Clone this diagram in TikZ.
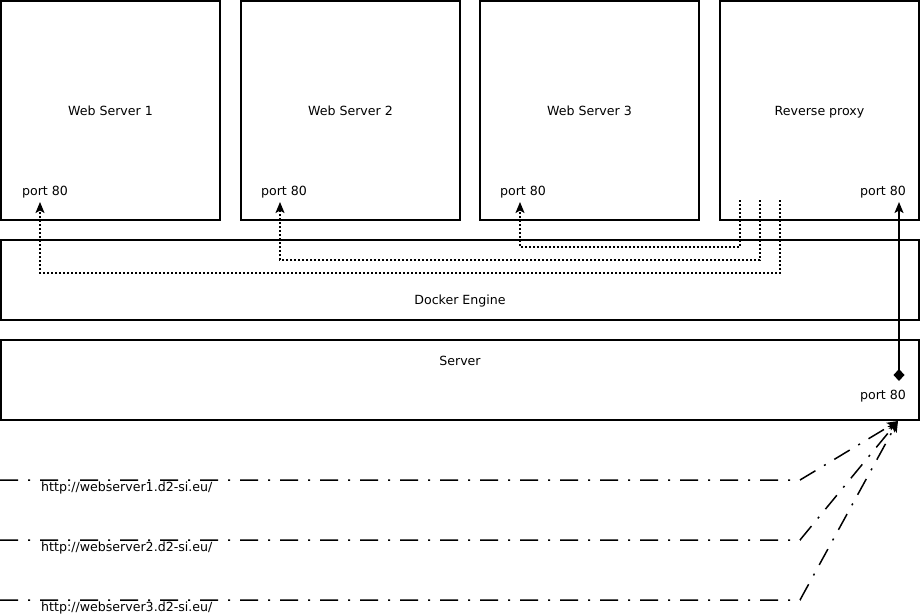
\documentclass[tikz,border=0pt]{standalone}
\usepackage{fontspec}
\setmainfont{DejaVu Sans}
\usetikzlibrary{arrows.meta}

\begin{document}
\begin{tikzpicture}[x=1pt,y=-1pt,>={Stealth[length=11pt,width=9pt,inset=2.5pt]},font=\fontsize{12.6}{15}\selectfont]
\path[use as bounding box,fill=white] (0,0) rectangle (922,614);
\tikzset{box/.style={draw=black,line width=1.4pt,inner sep=0pt,text depth=0pt},txt/.style={inner sep=0pt,text depth=0pt},portlink/.style={draw=black,line width=1.5pt,dash pattern=on 2pt off 2pt},link/.style={draw=black,line width=1.5pt},weblink/.style={draw=black,line width=1.5pt,dash pattern=on 18pt off 10pt on 2pt off 10pt}}
\node[box,minimum width=219pt,minimum height=219pt] (ws1) at (110.5,110.5) {Web Server 1};
\node[box,minimum width=219pt,minimum height=219pt] (ws2) at (350.5,110.5) {Web Server 2};
\node[box,minimum width=219pt,minimum height=219pt] (ws3) at (589.5,110.5) {Web Server 3};
\node[box,minimum width=199pt,minimum height=219pt] (proxy) at (819.5,110.5) {Reverse proxy};
\node[box,minimum width=918pt,minimum height=80pt] (docker) at (460,280) {};
\node[txt] (dockerlbl) at (460,300) {Docker Engine};
\node[box,minimum width=918pt,minimum height=80pt] (server) at (460,380) {};
\node[txt] (serverlbl) at (460,361) {Server};
\node[txt] (ws1port) at (45,191) {port 80}; \node[txt] (ws2port) at (284,191) {port 80}; \node[txt] (ws3port) at (523,191) {port 80};
\node[txt] (proxyport) at (883,191) {port 80}; \node[txt] (serverport) at (883,395) {port 80};
\coordinate (ws1in) at (40,202); \coordinate (ws2in) at (280,202); \coordinate (ws3in) at (520,202);
\coordinate (px1) at (740,200); \coordinate (px2) at (760,200); \coordinate (px3) at (780,200);
\draw[portlink,->] (px1) -- ++(0,47) -| (ws3in);
\draw[portlink,->] (px2) -- ++(0,60) -| (ws2in);
\draw[portlink,->] (px3) -- ++(0,73) -| (ws1in);
\coordinate (proxyin) at (899,202); \coordinate (serverout) at (899,381);
\draw[link,{Diamond[length=12pt,width=11pt]}->] (serverout) -- (proxyin);
\coordinate (entry) at (898,421);
\foreach \i/\y in {1/480,2/540,3/600} {
  \coordinate (url\i) at (0,\y);
  \draw[weblink,->] (url\i) -- ++(800,0) -- (entry);
  \node[txt,anchor=west] (url\i lbl) at (41,\y+7) {http://webserver\i.d2-si.eu/};
}
\end{tikzpicture}
\end{document}
